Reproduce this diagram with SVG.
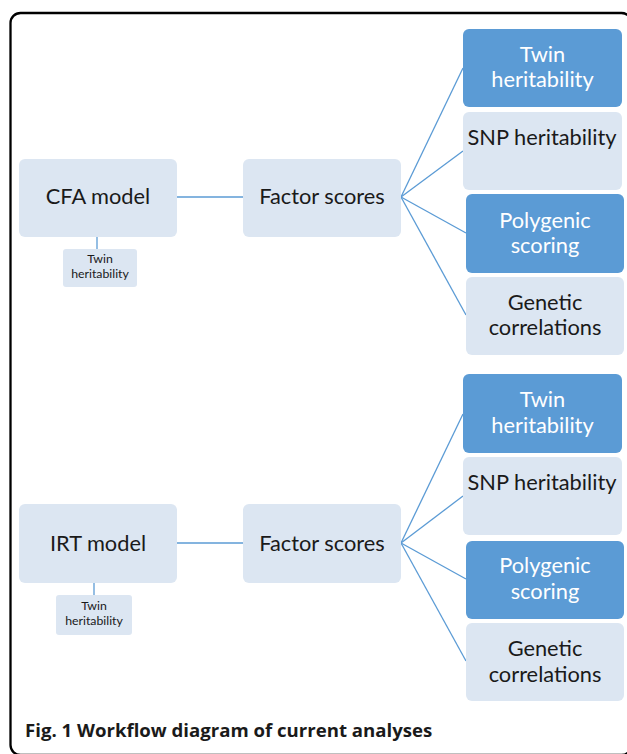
<svg xmlns="http://www.w3.org/2000/svg" width="627" height="754" viewBox="0 0 627 754">
<style>
.light{fill:#dce6f2;}
.dark{fill:#5b9bd5;}
.lbl{font-family:Lato,"Open Sans","Liberation Sans",sans-serif;font-size:21.8px;fill:#1a1a1a;text-anchor:middle;}
.wl{fill:#ffffff;}
.sm{font-family:Lato,"Open Sans","Liberation Sans",sans-serif;font-size:12.3px;fill:#1a1a1a;text-anchor:middle;}
.conn line{stroke:#5b9bd5;stroke-width:1.3;}
.cap{font-family:"Open Sans","Liberation Sans",sans-serif;font-weight:bold;font-size:18.6px;fill:#1a1a1a;}
</style>
<rect x="10.5" y="13" width="621" height="742" rx="10" fill="#ffffff" stroke="#000000" stroke-width="2.3"/>
<g class="conn" id="connectors">
<line x1="177" y1="197" x2="243" y2="197"/>
<line x1="97" y1="237" x2="97" y2="249"/>
<line x1="401" y1="197" x2="463" y2="68"/>
<line x1="401" y1="197" x2="463" y2="151"/>
<line x1="401" y1="197" x2="466" y2="233"/>
<line x1="401" y1="197" x2="466" y2="315"/>
<line x1="177" y1="543" x2="243" y2="543"/>
<line x1="94" y1="583" x2="94" y2="595"/>
<line x1="401" y1="543" x2="463" y2="414"/>
<line x1="401" y1="543" x2="463" y2="496"/>
<line x1="401" y1="543" x2="466" y2="579"/>
<line x1="401" y1="543" x2="466" y2="661"/>
</g>
<g id="cfa"><rect class="light" x="19" y="159" width="158" height="78" rx="6"/><text class="lbl" x="98" y="204">CFA model</text></g>
<g id="cfa-twin"><rect class="light" x="63" y="249" width="74" height="38" rx="3"/><text class="sm" x="100" y="263">Twin</text><text class="sm" x="100" y="278">heritability</text></g>
<g id="fs1"><rect class="light" x="243" y="159" width="158" height="78" rx="6"/><text class="lbl" x="322" y="204">Factor scores</text></g>
<g id="twin1"><rect class="dark" x="463" y="29" width="159" height="78" rx="6"/><text class="lbl wl" x="542.5" y="62">Twin</text><text class="lbl wl" x="542.5" y="87">heritability</text></g>
<g id="snp1"><rect class="light" x="463" y="112" width="159" height="78" rx="6"/><text class="lbl" x="542" y="145">SNP heritability</text></g>
<g id="pgs1"><rect class="dark" x="466" y="194" width="158" height="79" rx="6"/><text class="lbl wl" x="545" y="228">Polygenic</text><text class="lbl wl" x="545" y="253">scoring</text></g>
<g id="gc1"><rect class="light" x="466" y="277" width="158" height="78" rx="6"/><text class="lbl" x="545" y="310">Genetic</text><text class="lbl" x="545" y="335">correlations</text></g>
<g id="irt"><rect class="light" x="19" y="504" width="158" height="79" rx="6"/><text class="lbl" x="98" y="551">IRT model</text></g>
<g id="irt-twin"><rect class="light" x="56" y="595" width="76" height="40" rx="3"/><text class="sm" x="94" y="610">Twin</text><text class="sm" x="94" y="625">heritability</text></g>
<g id="fs2"><rect class="light" x="243" y="504" width="158" height="79" rx="6"/><text class="lbl" x="322" y="551">Factor scores</text></g>
<g id="twin2"><rect class="dark" x="463" y="374" width="159" height="79" rx="6"/><text class="lbl wl" x="542.5" y="407">Twin</text><text class="lbl wl" x="542.5" y="433">heritability</text></g>
<g id="snp2"><rect class="light" x="463" y="457" width="159" height="78" rx="6"/><text class="lbl" x="542" y="490">SNP heritability</text></g>
<g id="pgs2"><rect class="dark" x="466" y="541" width="158" height="78" rx="6"/><text class="lbl wl" x="545" y="573">Polygenic</text><text class="lbl wl" x="545" y="599">scoring</text></g>
<g id="gc2"><rect class="light" x="466" y="623" width="158" height="78" rx="6"/><text class="lbl" x="545" y="656">Genetic</text><text class="lbl" x="545" y="682">correlations</text></g>
<text class="cap" x="25" y="737">Fig. 1 Workflow diagram of current analyses</text>
</svg>
